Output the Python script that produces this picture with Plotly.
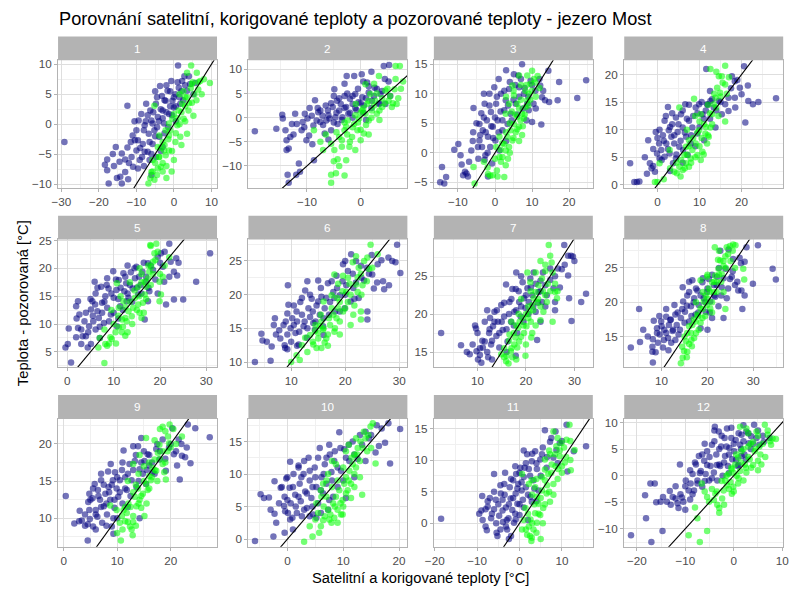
import plotly.graph_objects as go

# ---------------- data ----------------
# satellite (navy) and corrected (green) vs. observed temperature, per month
sat_01 = [(-29.2,-3.0),(-18.4,-6.8),(-17.8,-5.9),(-17.4,-9.9),(-17.8,-7.7),(-16.3,-5.0),(-15.2,-9.0),(-14.3,-8.8),(-13.9,-9.9),(-14.5,-6.3),(-13.9,-4.9),(-15.5,-3.8),(-13.0,-5.9),(-12.4,3.1),(-12.4,-3.9),(-12.2,-9.2),(-11.3,-5.5),(-10.9,-7.1),(-11.0,-1.9),(-10.4,-2.7),(-10.0,-4.4),(-9.6,-7.4),(-10.0,-1.0),(-9.4,0.6),(-9.1,-6.0),(-8.7,1.7),(-8.3,-3.3),(-7.8,-0.2),(-7.4,3.4),(-7.0,-4.6),(-6.7,-1.6),(-6.3,2.3),(-6.0,0.6),(-5.7,-3.3),(-5.2,-1.0),(-4.8,3.4),(-4.3,1.2),(-3.9,-2.1),(-3.7,6.4),(-3.2,4.7),(-3.0,2.3),(-2.6,0.1),(-2.2,3.9),(-1.7,5.6),(-1.3,1.7),(-0.7,7.2),(-0.4,3.9),(0.0,2.8),(0.4,5.0),(1.1,9.8),(1.3,6.1),(1.7,3.4),(2.2,7.2),(2.8,8.0),(3.5,5.6),(4.3,6.7),(5.2,5.0),(5.7,6.9),(-4.8,-5.5),(-6.5,-6.0),(-3.0,-3.8),(-7.8,-4.6),(-5.7,0.1),(-9.6,-2.7),
          (-9,-4),(-8.5,-5.5),(-8,-1),(-7.5,0.5),(-7,1.5),(-6.5,-3),(-6,-5),(-5.5,2),(-5,-2),(-4.5,-0.5),(-4.5,4.5),(-4,0.5),(-3.5,2.5),(-3.5,-4.5),(-3,1),(-2.5,4),(-2.5,-1.5),(-2,2),(-1.5,-0.5),(-1,3),(-1,5.5),(-0.5,1.5),(0,4.5),(0.5,3),(1,7),(1.5,4.5),(2,5.5),(2.5,4),(3,6.5),(4,8),(-11.5,-3),(-12,-6.5),(-13,-8),(-10.5,0.5),(-8,-7),(-6,-8.5),(-16,-7),(-5,5.5),(-2,6.5),(0.5,0.5)]
kor_01 = [(-6.8,-9.9),(-6.3,-9.0),(-5.2,-9.3),(-5.7,-7.9),(-4.3,-7.4),(-3.5,-7.1),(-3.0,-7.9),(-0.6,-7.9),(-5.7,-6.0),(-3.9,-5.5),(-2.2,-5.2),(-1.3,-4.4),(-4.3,-3.8),(-3.0,-3.0),(0.4,-3.0),(-5.2,3.1),(-3.9,-1.9),(-2.2,-1.0),(-1.3,0.1),(-0.4,0.9),(0.0,1.7),(0.9,-0.2),(1.3,2.3),(2.2,3.4),(2.6,0.9),(3.0,4.5),(3.9,2.3),(4.8,3.6),(4.6,9.8),(3.5,8.6),(6.1,8.6),(4.8,6.7),(6.5,5.8),(7.4,5.0),(9.6,6.9),(5.2,1.4),(3.5,-1.6),(1.7,-2.1),(-1.3,-1.9),(-2.6,-4.4),(7.0,7.2),
          (-6,-8),(-5,-6.5),(-4.5,-8.5),(-4,-5.5),(-3.5,-4),(-3,-6.5),(-2.5,-3.5),(-2,-7),(-1.5,-2.5),(-1,-1),(-0.5,-4.5),(0.5,-1.5),(1,1),(1.5,0),(2,2),(2.5,5.5),(3,3),(3.5,4.5),(4,3.5),(4.5,6),(5,7),(5.5,5),(6,4),(6.5,7),(8,7.5),(2,-3.5),(0,-6),(-2,-9),(3,0.5),(1.5,5)]

sat_02 = [(-19.7,-2.8),(-15.7,-2.3),(-14.6,0.6),(-14.5,-0.2),(-14.0,-2.6),(-13.8,-4.7),(-13.8,-6.7),(-13.4,-6.4),(-13.6,-11.8),(-13.4,-13.5),(-13.1,-4.0),(-12.8,-1.3),(-12.2,0.8),(-11.9,-1.3),(-12.0,-11.8),(-11.3,-11.2),(-11.0,-2.6),(-10.8,-0.9),(-10.4,0.8),(-10.1,-4.7),(-9.9,-0.2),(-9.6,-3.7),(-9.1,0.4),(-8.8,-1.6),(-8.7,-8.8),(-8.5,3.6),(-8.2,-0.6),(-7.9,1.1),(-7.5,-0.9),(-7.1,0.4),(-6.7,-3.3),(-6.4,-0.6),(-6.1,1.5),(-5.8,-0.2),(-5.5,-2.6),(-5.2,2.2),(-4.9,5.9),(-4.7,0.1),(-4.4,3.5),(-4.3,-1.3),(-4.0,1.5),(-3.7,2.8),(-3.4,0.1),(-3.0,4.5),(-2.7,2.2),(-2.6,8.6),(-2.3,0.8),(-2.0,3.9),(-1.5,2.8),(-1.2,8.6),(-1.0,4.9),(-0.8,1.6),(-0.4,3.2),(0.2,9.0),(0.3,4.2),(0.6,2.5),(1.2,7.3),(1.5,5.2),(2.1,3.5),(2.6,6.2),(3.4,2.8),(3.7,4.9),(4.3,10.7),(5.2,7.5),(5.3,10.9),(4.6,2.8),(5.5,4.5),
          (-8,2),(-7.5,1.5),(-7,-1.5),(-6.5,2.5),(-6,0.5),(-5.5,3),(-5,-1),(-4.5,1),(-4,4),(-3.5,-0.5),(-3,2),(-2.5,5),(-2,1),(-1.5,4.5),(-1,2),(-0.5,6),(0,3),(0.5,1),(1,4),(1.5,6.5),(2,2),(2.5,4.5),(3,6),(3.5,3),(4,5.5),(4.5,8),(-3,7),(-5,4.5),(-9.5,2),(-10.5,-2),(-12.5,-3.5),(-11.5,-9.5),(-9,-5.5),(-6,-4.5),(0.5,7.5),(2,9.5),(-1.5,0),(1,-0.5)]
kor_02 = [(-8.7,-2.6),(-7.0,-6.7),(-5.5,-5.4),(-5.5,-11.8),(-5.5,-13.5),(-4.6,-11.5),(-4.9,-6.7),(-4.3,-8.6),(-4.0,-4.0),(-3.5,-4.7),(-3.0,-2.6),(-2.7,-1.9),(-2.4,-0.6),(-2.1,-6.0),(-1.6,-4.0),(-1.2,-1.3),(-1.0,-6.7),(-0.6,-2.6),(-0.3,-0.2),(0.0,-4.7),(0.3,1.5),(0.6,-3.3),(0.9,0.8),(1.2,2.8),(1.5,-0.6),(1.8,4.9),(2.1,1.5),(2.7,3.5),(3.0,0.8),(3.4,8.6),(4.0,2.2),(4.6,5.6),(5.2,3.5),(5.8,2.2),(6.3,5.9),(6.7,2.8),(7.3,10.7),(6.5,10.7),(7.9,7.5),(0.9,6.9),(-0.9,2.8),(-2.7,-8.8),
          (-7.5,-5),(-6.5,-3.5),(-5,-9),(-4.5,-3),(-3.5,-6),(-3,-1),(-2.5,-3.5),(-2,-5),(-1.5,-2),(-1,0.5),(-0.5,-1),(0,1),(0.5,2),(1,-1.5),(1.5,3.5),(2,0),(2.5,2.5),(3,5),(3.5,1.5),(4,4),(4.5,3),(5,6),(5.5,4.5),(6,3),(6.5,8),(7,4),(7.5,6),(2.5,7),(0,-2.5),(-4,-10),(-3,-12),(1.5,-3.5),(3.5,-0.5)]

sat_03 = [(-14.3,-2.4),(-14.8,-5.0),(-13.7,-5.2),(-13.2,-4.1),(-9.9,1.5),(-9.3,-0.4),(-8.6,-3.8),(-8.1,-3.2),(-7.7,-3.5),(-7.3,-4.0),(-6.4,0.4),(-5.8,7.6),(-5.9,3.5),(-4.6,1.0),(-4.2,2.1),(-3.7,6.7),(-4.2,4.9),(-3.3,3.8),(-2.8,8.3),(-2.6,-0.4),(-2.2,5.5),(-1.9,2.7),(-1.5,10.0),(-1.3,1.0),(-1.1,6.9),(-0.8,-1.8),(-0.6,4.4),(-0.2,11.1),(0.1,2.1),(0.3,8.3),(0.7,5.5),(1.2,0.4),(1.6,10.0),(2.0,3.8),(2.5,7.2),(2.9,8.9),(3.4,4.9),(3.8,10.8),(4.2,6.6),(5.1,13.3),(5.6,8.3),(6.3,13.1),(6.5,11.1),(7.3,15.0),(7.8,10.0),(8.7,8.3),(9.1,7.2),(9.6,12.2),(10.0,5.2),(10.4,8.3),(10.9,10.5),(12.2,11.4),(12.5,4.8),(12.7,9.4),(13.5,8.9),(14.4,13.9),(14.6,8.6),(16.9,8.9),(17.3,12.0),(22.2,9.3),(24.6,12.3),(-2.8,-1.2),(-1.9,-4.0),
          (-5,5),(-4.5,-1),(-4,3),(-3.5,1),(-3,6),(-2.5,3.5),(-2,0),(-1.5,8),(-1,4.5),(-0.5,2.5),(0,6),(0.5,9.5),(1,3.5),(1.5,7),(2,5.5),(2.5,10.5),(3,2),(3.5,8),(4,12),(4.5,5.5),(5,9),(5.5,11.5),(6,6.5),(6.5,9.5),(7,12.5),(7.5,7.5),(8,11),(8.5,5.5),(9,9.5),(10,11.5),(11,7.5),(12,12.5),(-7,-1.5),(-6,2),(-9,-2),(-11,0.5),(1,12.5),(3,14),(13,10.5),(-3,10)]
kor_03 = [(-5.8,-2.4),(-5.5,-5.2),(-1.9,-3.6),(-1.3,-3.9),(-0.6,-3.8),(0.7,-4.0),(2.5,-4.1),(1.2,-0.7),(1.6,-1.5),(2.9,-2.1),(2.9,0.4),(3.8,1.0),(0.3,1.0),(1.2,2.7),(2.0,1.6),(3.4,2.7),(4.2,3.8),(4.7,2.1),(5.1,4.9),(5.6,3.5),(6.0,6.1),(6.5,4.4),(6.9,5.5),(7.3,6.6),(7.8,5.8),(8.2,7.7),(8.7,8.9),(9.1,10.0),(9.6,11.7),(10.0,13.9),(8.7,13.1),(10.9,11.9),(6.5,13.1),(4.7,11.4),(3.8,8.3),(5.1,9.7),(2.9,6.6),(7.3,3.0),(8.2,10.5),(6.0,8.3),(2.0,-0.7),
          (-3,-1.5),(-2,-2.5),(0,-1),(0.5,-3),(1.5,0.5),(2.5,1.5),(3,3.5),(3.5,-1),(4,5),(4.5,7),(5,2.5),(5.5,6.5),(6,4),(6.5,7.5),(7,9),(7.5,4.5),(8,6.5),(8.5,11.5),(9,8),(9.5,9),(10,10.5),(10.5,12.5),(11,9.5),(11.5,13),(12,11),(7,11.5),(5,10.5),(3,9.5),(4,0),(6.5,2)]

sat_04 = [(-6.5,3.9),(-5.5,0.5),(-4.9,0.5),(-4.3,0.6),(-2.2,8.1),(-1.8,3.9),(-1.4,3.0),(-1.0,3.4),(-0.6,2.4),(-0.4,9.6),(-0.1,5.7),(0.4,7.5),(0.5,4.8),(0.9,6.3),(1.3,9.0),(1.7,11.6),(1.7,5.1),(2.1,7.5),(2.5,14.1),(2.7,9.9),(2.9,5.7),(3.3,8.7),(3.5,11.0),(3.7,3.9),(4.0,7.5),(4.4,12.2),(4.8,9.6),(5.2,6.9),(5.6,12.8),(6.0,10.4),(6.1,6.3),(6.6,14.6),(6.8,8.7),(7.5,11.6),(7.9,7.5),(8.3,10.4),(9.1,14.0),(9.5,9.3),(9.9,14.6),(10.7,12.8),(11.1,8.1),(11.6,21.0),(11.8,14.6),(12.6,15.2),(13.4,14.0),(13.8,10.4),(14.6,15.2),(16.1,14.6),(16.9,15.8),(17.7,19.7),(18.4,18.8),(19.6,17.6),(20.0,16.4),(20.6,21.5),(20.9,11.3),(21.6,15.2),(22.7,14.6),(28.2,15.7),(15.3,12.8),(16.9,13.4),(18.4,15.8),(7.2,5.4),(4.4,4.8),
          (0,8.5),(0.5,10),(1,4.5),(1.5,8),(2,12.5),(2.5,6.5),(3,10.5),(3.5,13),(4,9),(4.5,5.5),(5,11),(5.5,8),(6,13.5),(6.5,9.5),(7,12),(7.5,14.5),(8,9),(8.5,12.5),(9,7),(9.5,13),(10,10.5),(10.5,15),(11,12),(11.5,13.5),(12,14.5),(12.5,12),(13,15.5),(14,13.5),(15,15),(17.5,17.5),(19,19),(21.5,18),(24,15),(-3,5),(-2.5,2),(-1,6.5),(3,2.5),(6,4),(12.5,17),(18.5,14)]
kor_04 = [(-0.6,0.5),(0.0,0.5),(0.5,3.9),(2.9,6.3),(4.0,2.4),(4.6,2.1),(5.2,3.3),(5.6,4.5),(6.0,2.7),(6.4,5.4),(6.8,3.9),(7.5,3.3),(7.9,4.8),(6.8,6.9),(7.5,8.1),(8.3,6.3),(9.1,7.5),(9.5,5.4),(10.3,4.5),(10.7,6.0),(9.9,9.9),(11.1,11.0),(11.4,9.3),(11.8,7.5),(12.2,8.7),(12.6,10.4),(13.0,12.8),(13.4,14.6),(13.8,15.8),(14.2,17.6),(14.6,19.7),(15.3,19.7),(16.1,18.2),(12.6,21.0),(16.1,21.6),(16.1,11.5),(8.7,15.6),(5.2,14.0),(14.9,16.7),(10.3,12.8),
          (1.5,1),(3,3),(4.5,4),(5.5,1.5),(6.5,3),(7,5.5),(7.5,7),(8,4),(8.5,8.5),(9,5),(9.5,9.5),(10,7),(10.5,8.5),(11,5.5),(11.5,10.5),(12,9),(12.5,13),(13,11),(13.5,16.5),(14,14),(14.5,12.5),(15,16),(15.5,18.5),(16.5,16.5),(17,19.5),(14,20.5),(10,11.5),(12,14.5),(7,10),(9,12.5)]

sat_05 = [(-0.4,5.8),(0.1,6.4),(0.3,9.2),(0.8,3.1),(1.9,7.6),(2.3,9.3),(1.9,13.2),(2.3,14.1),(2.6,11.7),(3.0,6.4),(3.3,7.8),(3.7,10.5),(4.0,7.8),(4.4,5.8),(4.7,9.6),(5.1,12.6),(5.6,10.5),(5.9,17.6),(6.1,15.5),(6.1,9.0),(6.5,12.3),(6.8,11.1),(7.3,16.7),(7.5,13.8),(7.9,10.2),(8.2,15.0),(8.6,12.9),(8.9,16.4),(9.4,11.7),(9.9,19.5),(10.0,14.7),(10.6,16.1),(10.7,9.6),(11.1,17.9),(11.4,13.2),(12.1,19.1),(12.3,15.9),(12.7,17.3),(13.2,14.7),(13.7,19.3),(14.1,16.4),(14.6,18.2),(14.9,20.3),(15.3,15.3),(15.8,17.0),(16.2,19.4),(16.7,10.8),(17.0,17.6),(17.4,20.9),(17.7,15.9),(18.5,19.7),(19.5,22.1),(20.2,22.7),(20.6,20.3),(20.9,17.6),(21.3,13.5),(22.0,24.4),(22.3,21.2),(23.0,19.4),(23.5,21.8),(23.7,18.7),(23.0,14.4),(25.0,14.4),(27.8,17.6),(30.8,22.7),(5.4,14.1),(8.6,18.2),(5.1,6.4),(12.8,14.1),(17.4,14.1),
          (4,12),(4.5,8.5),(5,14.5),(5.5,11.5),(6,13.5),(6.5,16.5),(7,9.5),(7.5,12),(8,14),(8.5,17),(9,10.5),(9.5,15.5),(10,12),(10.5,18),(11,14.5),(11.5,16.5),(12,12.5),(12.5,18.5),(13,15.5),(13.5,17),(14,14),(14.5,20),(15,16.5),(15.5,18.5),(16,15.5),(16.5,21),(17,18.5),(17.5,16.5),(18,20.5),(19,18),(20,21),(21,23),(22,18.5),(24,21),(3,9),(2,11),(7,7.5),(11,11),(19.5,15.5),(13,20.5)]
kor_05 = [(6.7,5.8),(8.2,6.4),(8.0,3.0),(8.6,6.1),(9.3,7.6),(9.6,7.3),(10.4,8.5),(11.1,9.4),(11.8,8.5),(12.5,7.9),(11.8,10.8),(12.5,11.1),(12.8,10.5),(11.1,12.9),(12.1,14.1),(13.2,12.3),(13.9,11.4),(14.2,12.9),(14.6,14.7),(15.3,13.5),(15.6,12.0),(16.0,11.1),(16.3,13.8),(16.7,15.3),(17.0,16.7),(17.4,18.2),(17.7,19.4),(18.1,20.3),(18.5,21.2),(18.8,22.7),(19.2,24.4),(17.9,24.2),(20.2,15.3),(19.9,14.1),(20.6,18.5),(15.6,20.0),(10.7,17.3),(15.3,16.7),(16.7,17.6),(19.9,17.6),
          (7,7.5),(8,9),(9,6.5),(10,10),(10.5,6.5),(11,11.5),(12,9.5),(12.5,13),(13,8.5),(13.5,14),(14,10),(14.5,16),(15,12.5),(15.5,15),(16,17.5),(16.5,12),(17,14.5),(17.5,20.5),(18,17),(18.5,19),(19,21.5),(19.5,23),(20,19),(21,20.5),(22,22),(18,24),(16,19),(13.5,17.5),(11.5,15),(9.5,12.5)]

sat_06 = [(3.3,10.0),(4.5,14.2),(4.7,13.2),(6.2,10.2),(6.4,12.3),(6.8,15.5),(7.2,14.1),(7.8,14.7),(8.6,15.5),(8.8,12.5),(8.9,12.1),(9.3,11.9),(9.4,21.4),(9.3,17.2),(9.3,14.1),(9.9,15.0),(10.2,16.5),(10.5,18.4),(10.8,14.3),(11.1,16.0),(11.4,12.6),(11.7,18.9),(12.0,17.0),(12.3,15.3),(12.6,20.6),(12.9,13.6),(13.2,18.0),(13.5,16.7),(13.8,19.4),(14.1,15.8),(14.4,14.8),(14.7,18.4),(15.0,22.1),(15.3,17.0),(15.6,19.7),(15.9,15.3),(16.2,18.0),(16.8,21.7),(17.2,18.9),(17.8,20.4),(18.1,17.5),(18.4,22.8),(19.0,19.9),(19.6,24.5),(19.9,18.0),(20.2,21.4),(21.1,26.0),(21.4,23.1),(21.7,19.4),(22.0,21.8),(22.9,24.3),(23.5,22.1),(24.1,17.5),(24.1,16.3),(24.4,23.1),(24.9,25.9),(25.3,20.9),(25.9,21.8),(26.7,25.1),(27.2,20.8),(28.1,21.4),(28.7,25.0),(29.6,27.4),(30.2,23.2),(29.3,24.8),(11.1,12.4),
          (5.5,13),(7,16.5),(8,13.5),(9,16),(9.5,18.5),(10,13),(10.5,15.5),(11,17.5),(11.5,14.5),(12,19.5),(12.5,16),(13,15),(13.5,20),(14,17.5),(14.5,16),(15,19),(15.5,21),(16,16.5),(16.5,19.5),(17,17),(17.5,22),(18,19.5),(18.5,21),(19,17.5),(19.5,22),(20,20),(20.5,23.5),(21,19),(21.5,21),(22,25),(22.5,19.5),(23,22.5),(24,24),(25,23),(26,24.5),(27,22),(28,25.5),(16,14),(20,25),(13,22)]
kor_06 = [(10.0,10.0),(11.6,10.3),(12.6,13.6),(14.1,12.6),(14.7,12.1),(14.4,14.6),(15.0,14.3),(15.3,15.3),(15.6,16.0),(15.9,14.8),(16.2,12.9),(16.8,12.4),(16.8,14.1),(17.2,15.5),(17.8,17.0),(18.1,15.0),(18.4,16.5),(18.7,18.0),(19.0,18.9),(19.6,17.5),(19.6,22.8),(20.2,20.4),(20.5,18.9),(20.8,21.6),(21.4,24.8),(21.7,18.4),(22.0,25.7),(22.3,20.4),(22.9,23.1),(23.2,21.4),(24.1,25.5),(24.7,27.4),(24.4,23.8),(22.9,17.5),(22.9,16.3),(22.3,22.6),(17.5,19.9),(19.0,14.1),(15.6,12.1),(18.7,21.6),
          (11,11),(12,12.5),(13,11.5),(13.5,14),(14,13),(14.5,15.5),(15,13.5),(15.5,17),(16,15),(16.5,13.5),(17,16.5),(17.5,18),(18,14.5),(18.5,19.5),(19,16),(19.5,20.5),(20,18),(20.5,22.5),(21,20),(21.5,17),(22,21.5),(22.5,24),(23,20),(23.5,25),(24,22),(25,24),(26,26),(18,23),(16,19),(21,15.5)]

sat_07 = [(2.5,17.5),(6.6,15.9),(7.8,15.0),(8.4,14.7),(9.5,18.5),(9.7,18.1),(9.8,15.1),(10.1,14.0),(10.5,14.6),(10.8,13.6),(11.1,15.6),(11.5,16.4),(12.0,20.5),(12.2,14.3),(12.4,17.5),(12.6,19.5),(12.8,16.0),(13.2,18.4),(13.5,20.3),(13.9,17.1),(14.2,19.0),(14.5,15.6),(14.9,21.2),(15.2,17.9),(15.5,19.7),(15.9,23.9),(16.2,16.4),(16.6,21.6),(16.9,19.0),(17.2,23.3),(17.6,20.3),(17.9,23.3),(18.0,25.5),(18.2,17.5),(18.6,21.6),(18.9,19.7),(19.3,24.2),(19.6,22.1),(19.9,20.8),(20.3,23.4),(20.6,21.6),(20.9,24.7),(21.3,22.5),(21.6,25.5),(22.0,20.3),(22.3,16.6),(22.6,22.9),(23.0,24.4),(23.3,21.6),(24.0,23.8),(24.3,22.5),(25.0,26.0),(25.7,23.4),(26.0,21.6),(26.6,26.0),(27.4,25.9),(27.9,29.1),(28.7,27.7),(28.7,25.1),(28.9,22.1),(29.3,27.7),(29.4,19.1),(29.7,27.6),(31.4,21.6),(32.4,22.7),(17.9,14.5),
          (9,16),(10,17.5),(11,16.5),(11.5,19),(12,15),(12.5,18),(13,16.5),(13.5,19),(14,20.5),(14.5,17.5),(15,19),(15.5,21.5),(16,18),(16.5,20),(17,22),(17.5,18.5),(18,20.5),(18.5,23),(19,21),(19.5,19),(20,22.5),(20.5,20),(21,23.5),(21.5,21),(22,24),(22.5,21.5),(23,23),(23.5,25.5),(24,21),(25,24.5),(26,25),(27,23.5),(28,26.5),(16,15),(13,14),(10.5,15.5),(19,25),(23,19),(30,27),(26,20.5)]
kor_07 = [(14.9,14.7),(15.5,14.3),(15.9,13.8),(16.4,13.5),(16.9,15.1),(17.2,14.3),(17.6,16.0),(17.8,16.9),(18.2,15.6),(18.4,18.2),(18.7,19.0),(19.3,19.5),(19.6,17.5),(19.9,14.5),(20.1,18.4),(20.5,19.5),(20.7,20.3),(20.9,24.2),(21.1,16.9),(21.3,21.2),(21.6,22.1),(22.0,22.9),(22.3,21.6),(22.6,23.8),(23.0,19.2),(23.3,24.7),(23.6,20.3),(24.0,25.7),(24.3,21.6),(24.7,29.1),(25.0,27.7),(25.3,26.8),(25.5,19.0),(26.0,22.9),(26.4,22.1),(23.0,27.0),(20.3,25.5),(21.3,17.5),(18.6,16.4),(16.6,17.3),
          (15.5,15.5),(16,14.5),(16.5,16.5),(17,15.5),(17.5,17.5),(18,14),(18.5,20),(19,17),(19.5,18.5),(20,16),(20.5,21),(21,19),(21.5,20.5),(22,18.5),(22.5,22),(23,21),(23.5,23),(24,22.5),(24.5,24),(25,23),(25.5,25.5),(26,24),(26.5,23),(22,25.5),(21,23),(20,20),(19,22),(24,26.5),(18,18.5),(17,19)]

sat_08 = [(3.3,13.4),(5.3,14.2),(5.1,19.0),(8.1,11.2),(8.0,12.8),(8.1,14.6),(8.3,17.3),(8.7,12.7),(9.0,16.2),(9.2,14.1),(9.6,15.3),(9.9,17.2),(10.3,13.4),(10.6,16.0),(11.0,17.9),(11.4,14.8),(11.6,16.7),(11.9,17.4),(12.1,14.1),(12.4,15.8),(12.8,19.6),(13.0,18.2),(13.3,16.7),(13.7,15.3),(14.2,17.7),(14.6,22.2),(14.7,20.1),(15.1,18.6),(15.6,21.0),(16.0,17.2),(16.4,19.4),(16.7,23.2),(17.1,20.6),(17.4,18.2),(17.8,21.7),(18.1,19.6),(18.5,16.2),(18.9,22.9),(19.2,20.6),(19.6,18.6),(19.9,21.5),(20.3,23.4),(20.6,20.1),(21.0,17.7),(21.4,22.5),(21.7,20.8),(22.1,23.7),(22.4,19.4),(22.8,27.5),(23.1,22.2),(23.5,17.7),(23.9,24.9),(24.2,20.6),(24.6,27.7),(24.9,23.4),(25.6,26.3),(26.0,22.5),(26.7,21.7),(27.3,25.7),(27.4,21.7),(27.6,19.0),(28.1,25.9),(28.1,21.0),(28.5,28.0),(29.9,22.7),(31.0,28.3),(34.2,24.9),(34.9,23.3),(25.3,23.7),
          (6,16),(7,15),(8,13.5),(9,15.5),(9.5,18),(10,16.5),(10.5,14.5),(11,15.5),(11.5,13),(12,17.5),(12.5,16),(13,14.5),(13.5,18.5),(14,16),(14.5,19),(15,17),(15.5,19.5),(16,21.5),(16.5,18),(17,20),(17.5,22),(18,18.5),(18.5,21),(19,23.5),(19.5,20),(20,22),(20.5,18.5),(21,24),(21.5,21),(22,22.5),(22.5,25),(23,21),(23.5,23.5),(24.5,22),(25.5,24.5),(26.5,23),(27,26.5),(11,19),(16,23),(20,16)]
kor_08 = [(14.2,11.1),(14.6,11.9),(14.9,12.9),(15.6,12.8),(15.3,14.3),(16.0,13.9),(15.6,15.5),(16.4,15.5),(16.7,16.7),(17.1,14.8),(17.4,17.2),(17.8,18.2),(18.1,16.0),(18.5,19.1),(18.9,17.7),(19.2,20.1),(19.6,21.0),(19.9,19.6),(20.3,22.0),(20.6,19.1),(21.0,22.9),(21.4,21.5),(21.7,23.9),(22.1,22.9),(22.4,24.9),(22.8,26.1),(23.1,24.1),(23.5,25.3),(23.9,26.7),(24.2,28.0),(24.9,28.2),(25.6,28.4),(26.1,28.3),(21.6,28.0),(22.3,26.2),(19.9,23.7),(18.5,23.2),(23.9,19.0),(28.0,23.3),(27.8,24.9),(16.6,13.6),
          (14.5,13.5),(15,15),(15.5,12),(16,16.5),(16.5,14.5),(17,17.5),(17.5,15.5),(18,18),(18.5,17),(19,19),(19.5,18),(20,20.5),(20.5,21.5),(21,20),(21.5,23),(22,21.5),(22.5,24),(23,23),(23.5,26),(24,25),(24.5,27),(25,26),(25.5,27.5),(22.5,27.5),(20,24),(17.5,20),(26,25),(21,18.5),(19,21.5),(23.5,21.5)]

sat_09 = [(0.4,13.0),(2.0,9.3),(2.9,9.6),(3.4,9.7),(4.5,7.0),(4.5,9.2),(4.8,13.3),(4.6,12.2),(4.8,11.1),(4.9,9.9),(5.4,12.7),(5.5,8.9),(5.8,14.6),(6.0,11.1),(6.3,10.2),(6.4,13.8),(6.8,12.5),(7.0,15.1),(7.2,9.4),(7.5,11.6),(7.8,13.3),(8.1,10.5),(8.3,16.3),(8.4,14.2),(8.7,12.5),(8.8,17.3),(9.0,8.9),(9.2,15.1),(9.3,7.9),(9.5,11.4),(9.6,16.2),(9.9,14.0),(10.2,12.9),(10.5,15.1),(10.9,16.5),(11.2,19.1),(11.5,15.5),(11.8,13.8),(12.3,17.3),(12.7,15.1),(13.0,19.7),(13.3,17.7),(13.6,14.2),(13.9,19.7),(14.2,16.6),(14.5,20.8),(14.8,16.0),(15.1,17.7),(15.4,14.6),(15.7,18.6),(16.0,17.1),(16.6,16.2),(17.3,19.3),(17.9,17.9),(18.5,20.6),(19.1,16.4),(19.7,19.5),(20.3,22.1),(20.6,18.6),(21.2,17.1),(21.5,20.6),(21.7,15.2),(22.1,18.4),(22.7,18.2),(23.0,19.5),(23.2,22.6),(23.7,17.4),(24.6,22.1),(27.3,20.9),(9.3,10.0),(14.2,10.0),
          (3,11),(4,10.5),(5,12.5),(5.5,14),(6,10.5),(6.5,13),(7,11.5),(7.5,14.5),(8,12),(8.5,13.5),(9,14.5),(9.5,12.5),(10,15.5),(10.5,13.5),(11,17.5),(11.5,14),(12,16),(12.5,13),(13,16.5),(13.5,18.5),(14,15),(14.5,17.5),(15,19),(15.5,16.5),(16,18.5),(16.5,17.5),(17,16),(17.5,20),(18,19),(19,18),(20,20),(21,19),(22,20),(6,8.5),(8,9),(10,10),(12,11.5),(7,16),(4,9),(11,12)]
kor_09 = [(10.7,7.0),(10.5,9.4),(10.9,10.3),(11.2,11.1),(11.5,9.6),(11.8,10.7),(12.1,12.0),(12.4,8.9),(12.7,8.5),(12.9,7.7),(13.0,10.3),(13.3,12.9),(13.6,11.6),(13.9,14.0),(14.2,12.5),(14.5,11.4),(14.8,13.3),(15.1,10.3),(15.4,14.6),(15.7,13.8),(16.0,15.7),(16.3,15.1),(16.6,16.8),(17.0,17.9),(17.3,16.4),(17.6,18.8),(17.9,19.9),(18.5,17.3),(18.8,16.2),(19.1,15.2),(19.4,19.0),(19.7,20.1),(18.5,22.3),(19.0,21.7),(19.8,22.6),(22.1,21.0),(15.4,20.8),(14.2,18.5),(13.0,17.3),(9.9,11.1),(8.7,11.7),
          (11,8.5),(11.5,11.5),(12,9.5),(12.5,11.5),(13,13.5),(13.5,9),(14,12),(14.5,13),(15,15),(15.5,12),(16,14),(16.5,15.5),(17,16.5),(17.5,15),(18,18),(18.5,19),(19,17.5),(19.5,21),(20,19.5),(21,20),(18,22),(16,17.5),(15,17),(14,16),(12,15),(13,9.5),(17,20.5),(20.5,22),(13.5,14.5),(10,8)]

sat_10 = [(-5.8,-0.3),(-4.8,6.9),(-4.2,6.3),(-3.3,6.4),(-2.5,0.4),(-2.3,3.9),(-2.3,8.9),(-1.2,7.9),(-0.6,5.1),(-0.5,1.0),(-0.4,4.3),(-0.2,9.3),(0.1,4.0),(0.4,7.9),(0.5,11.9),(0.6,5.5),(0.9,3.3),(1.1,10.0),(1.4,6.8),(1.7,4.0),(2.0,11.3),(2.2,8.5),(2.4,5.8),(2.6,3.5),(2.9,10.0),(3.2,7.3),(3.5,4.8),(3.8,12.5),(4.0,9.0),(4.3,6.3),(4.6,3.8),(4.9,11.0),(5.2,8.0),(5.5,5.5),(5.8,14.0),(6.1,9.5),(6.4,7.0),(6.7,11.5),(7.0,8.5),(7.3,4.5),(7.6,13.0),(7.9,10.3),(8.2,6.5),(8.4,12.0),(9.0,8.0),(9.3,16.4),(9.6,10.5),(10.2,13.8),(10.5,6.3),(11.1,12.0),(11.7,15.0),(12.0,9.5),(12.6,12.3),(13.4,14.5),(14.0,16.5),(14.6,15.5),(15.8,13.3),(16.4,14.3),(16.9,17.0),(17.5,14.8),(18.1,17.8),(18.4,11.6),(20.2,16.9),(5.2,3.3),(4.0,3.5),
          (-3,4.5),(-1.5,5.5),(-1,8),(-0.5,6.5),(0,9.5),(0.5,3),(1,8),(1.5,5),(2,6.5),(2.5,9.5),(3,4.5),(3,12),(3.5,7),(4,10.5),(4.5,5),(5,9.5),(5.5,12.5),(6,7.5),(6.5,10),(7,12.5),(7.5,6),(8,9),(8.5,13.5),(9,11),(9.5,14),(10,9),(10.5,12.5),(11,14.5),(12,13),(13,16),(14,12),(15,16),(16,17.5),(1,1.5),(-2,2.5),(0,6),(4.5,8),(7.5,14.5),(2,11),(6,4)]
kor_10 = [(3.0,-0.4),(4.5,0.4),(5.7,1.0),(6.4,2.9),(6.7,3.5),(7.3,4.5),(7.7,3.8),(8.2,5.5),(8.4,3.3),(8.7,6.5),(9.0,4.5),(9.3,7.5),(9.6,3.8),(9.9,6.0),(10.2,8.5),(10.5,9.5),(10.8,7.5),(11.1,10.5),(11.4,8.5),(11.7,11.5),(12.0,13.0),(12.3,11.0),(12.6,14.0),(13.1,15.0),(13.7,16.5),(14.3,13.5),(14.9,17.3),(15.3,17.8),(15.8,11.6),(13.4,6.8),(11.4,6.3),(7.3,10.0),(6.4,8.5),(8.7,11.5),(10.5,13.5),(5.2,5.5),(6.1,6.5),(7.9,2.5),(9.9,3.8),(12.3,15.5),
          (4,2),(5,3),(5.5,4),(6,2),(6.5,5),(7,6.5),(7.5,3),(8,8),(8.5,5),(9,9),(9.5,5.5),(10,11),(10.5,7),(11,9),(11.5,12.5),(12,10),(12.5,13),(13,12),(13.5,14),(14,15.5),(14.5,16),(15,14),(12,8),(10,5),(8,12),(6,7.5),(9,2.5),(11,14.5),(13,9.5),(7,9)]

sat_11 = [(-18.5,0.7),(-9.0,2.0),(-8.8,4.3),(-8.7,0.5),(-8.0,2.2),(-7.7,-1.1),(-7.5,2.6),(-6.7,0.8),(-6.0,7.8),(-6.0,2.2),(-5.6,3.7),(-5.4,-1.5),(-5.2,-2.0),(-4.8,1.2),(-4.4,4.7),(-4.0,3.7),(-3.9,0.2),(-3.6,6.2),(-3.4,8.0),(-3.2,2.5),(-2.9,-1.0),(-2.6,0.8),(-2.5,-2.5),(-2.3,5.7),(-2.1,3.9),(-1.7,2.1),(-1.5,6.8),(-1.3,0.1),(-0.9,4.7),(-0.8,7.8),(-0.5,3.1),(-0.3,6.2),(0.0,1.3),(0.2,8.8),(0.5,5.2),(0.8,3.7),(1.0,7.3),(1.2,8.8),(1.5,5.7),(1.8,10.9),(2.2,8.6),(2.6,4.2),(2.9,9.8),(3.3,6.8),(3.7,11.4),(4.1,8.6),(4.5,5.2),(4.9,10.1),(5.3,10.9),(6.0,14.7),(6.4,8.8),(7.2,12.9),(8.0,10.4),(8.7,11.6),(9.5,12.7),(11.1,15.6),(11.3,8.2),(12.8,11.4),(15.7,12.2),(2.9,3.4),(-0.9,0.6),(-3.2,-0.5),
          (-7,4),(-6.5,1.5),(-6,5),(-5.5,0),(-5,3),(-4.5,6),(-4,2),(-3.5,4.5),(-3,0.5),(-2.5,3),(-2,7),(-1.5,4),(-1,1.5),(-0.5,5.5),(0,3),(0,8),(0.5,6.5),(1,2.5),(1.5,9.5),(2,4.5),(2.5,7.5),(3,11),(3.5,5.5),(4,9.5),(5,7.5),(5.5,12),(6.5,10.5),(7.5,13.5),(9,9.5),(10,13),(-8,-0.5),(-7.5,3.5),(-4.5,-1),(-2,-2),(1,11.5),(-1,9),(4,3.5),(8.5,14.5),(-9.5,1.5),(2,0.5)]
kor_11 = [(0.6,-1.0),(1.4,2.4),(1.8,-1.8),(2.2,-0.5),(2.6,0.6),(2.9,-2.3),(3.3,-1.0),(3.7,1.6),(2.8,-2.8),(4.1,0.1),(4.5,3.1),(4.9,1.3),(3.7,5.7),(4.1,4.2),(5.3,5.2),(5.6,2.4),(6.0,6.8),(6.4,4.7),(6.8,7.8),(7.2,3.4),(7.6,9.3),(8.0,6.2),(8.4,10.9),(8.7,12.2),(9.1,8.6),(9.5,10.6),(9.9,12.7),(10.7,9.6),(11.1,13.2),(11.8,15.6),(12.1,8.4),(13.0,11.6),(8.0,14.5),(2.9,6.8),(6.0,10.1),(7.2,10.9),(5.3,7.3),(0.6,7.8),(2.2,6.2),
          (1,0.5),(1.5,-1),(2,1.5),(2.5,-2),(3,0),(3.5,3),(4,-1.5),(4.5,1.5),(5,4),(5.5,0),(6,3),(6.5,6),(7,5),(7.5,8),(8,4.5),(8.5,9),(9,7),(9.5,11.5),(10,9),(10.5,12),(11,10.5),(12,13),(9,13.5),(7,11.5),(6,8.5),(4,7),(3,4.5),(5,-2.5),(10,8),(12,10)]

sat_12 = [(-21.2,-11.2),(-18.3,-3.7),(-18.1,-8.0),(-17.2,-1.5),(-17.0,-12.5),(-16.3,-1.5),(-15.1,-4.9),(-14.7,-10.4),(-14.6,-4.0),(-13.8,-4.9),(-13.2,-2.9),(-12.6,-4.0),(-12.0,-4.3),(-11.6,-5.2),(-11.4,-6.1),(-11.1,2.1),(-10.7,-4.1),(-10.4,-4.9),(-10.0,-6.4),(-9.9,-0.9),(-9.3,-2.8),(-8.9,-1.5),(-8.5,0.3),(-8.2,-2.8),(-7.8,2.1),(-7.5,-0.9),(-7.2,3.7),(-6.8,0.9),(-6.5,-2.1),(-6.1,2.8),(-5.8,0.3),(-5.5,4.6),(-5.1,-0.9),(-4.8,1.8),(-4.5,5.8),(-4.1,0.6),(-3.9,9.2),(-3.6,4.0),(-3.4,-0.9),(-3.1,8.3),(-3.0,2.1),(-2.6,5.5),(-2.3,0.0),(-1.9,7.1),(-1.8,3.7),(-1.4,8.9),(-1.2,1.8),(-0.9,5.2),(-0.5,7.1),(-0.3,3.1),(0.1,4.6),(0.4,6.7),(0.8,1.8),(1.3,5.8),(1.6,7.7),(2.2,4.0),(2.6,8.3),(3.1,6.1),(3.6,7.4),(4.2,9.6),(4.7,7.1),(5.3,5.8),(6.2,6.4),(7.4,7.1),(1.6,3.7),(-2.8,1.8),
          (-10,-2),(-9,1),(-8.5,-3.5),(-8,2.5),(-7.5,-1.5),(-7,0.5),(-6.5,4),(-6,-1),(-5.5,2),(-5,3.5),(-4.5,-0.5),(-4,6.5),(-3.5,2),(-3,5),(-2.5,7.5),(-2,2.5),(-1.5,5.5),(-1,4),(-0.5,9),(0,6),(0.5,3),(1,8),(1.5,5),(2,6.5),(2.5,3),(3,8),(3.5,5),(4,6),(5,8.5),(6,7.5),(-12,-2),(-13,-5.5),(-11,-3.5),(-16,-5),(-9,-4.5),(-4,8.5),(-1,0.5),(1,2),(-6,6),(2,9.5)]
kor_12 = [(-9.3,-11.2),(-7.0,-12.5),(-5.5,-10.4),(-7.5,-8.0),(-6.6,-1.5),(-5.5,-4.0),(-5.1,-4.9),(-4.1,-4.6),(-3.8,-3.4),(-3.4,-5.5),(-3.0,-6.1),(-2.4,-4.3),(-2.1,-2.8),(-1.8,-0.9),(-1.4,-1.8),(-1.1,0.3),(-0.7,-1.2),(-0.4,1.2),(-0.1,-2.1),(0.3,2.1),(0.6,0.0),(0.9,3.4),(1.3,0.9),(1.6,4.6),(2.0,-0.9),(2.3,2.1),(2.6,0.6),(3.0,5.5),(3.3,3.1),(3.6,1.5),(4.0,6.4),(4.3,4.6),(4.7,8.3),(5.0,2.8),(5.3,5.5),(5.7,2.1),(6.4,9.6),(7.0,7.7),(7.7,5.8),(8.7,6.9),(1.3,9.2),(2.6,8.9),(-0.4,-3.4),(0.9,-1.5),
          (-8,-6),(-6,-3),(-4.5,-2.5),(-3.5,-3),(-2.5,-1),(-2,-5.5),(-1.5,0),(-1,-2.5),(-0.5,1.5),(0,0.5),(0.5,4),(1,-0.5),(1.5,2.5),(2,5),(2.5,1.5),(3,3.5),(3.5,6),(4,2),(4.5,5),(5,7.5),(5.5,4),(6,6),(6.5,3.5),(7,8.5),(7.5,6.5),(8,7),(3,8),(-3,-7),(0,-3),(5,1)]

months = ["1", "2", "3", "4", "5", "6", "7", "8", "9", "10", "11", "12"]
sat = [sat_01, sat_02, sat_03, sat_04, sat_05, sat_06, sat_07, sat_08, sat_09, sat_10, sat_11, sat_12]
kor = [kor_01, kor_02, kor_03, kor_04, kor_05, kor_06, kor_07, kor_08, kor_09, kor_10, kor_11, kor_12]

x_ticks = [[-30,-20,-10,0,10],[-10,0],[-10,0,10,20],[0,10,20],[0,10,20,30],[10,20,30],
           [10,20,30],[10,20,30],[0,10,20],[0,10,20],[-20,-10,0,10],[-20,-10,0,10]]
y_ticks = [[-10,-5,0,5,10],[-10,-5,0,5,10],[-5,0,5,10,15],[0,5,10,15,20],[5,10,15,20,25],[10,15,20,25],
           [15,20,25],[15,20,25],[10,15,20],[0,5,10,15],[0,5,10,15],[-10,-5,0,5,10]]

# ---------------- layout / style ----------------
W, H = 799, 592
x_ranges = [[-30.9,11.5],[-20.9,8.7],[-16.5,26.4],[-7.9,29.9],[-2.0,32.3],[2.1,31.5],
            [1.0,33.8],[1.86,36.5],[-1.04,28.66],[-6.98,21.5],[-20.2,17.3],[-22.6,10.2]]
y_ranges = [[-10.7,10.7],[-14.6,11.9],[-6.0,15.7],[-0.6,22.6],[2.2,25.2],[9.2,28.2],
            [12.97,29.85],[10.5,29.16],[6.18,23.4],[-1.15,18.5],[-3.7,16.55],[-13.37,10.74]]

col_px = [(50, 212), (244, 406), (433, 595), (627, 789)]
row_px = [(55, 185), (237, 367), (419, 549)]   # panel top, bottom
strip_h = 24

NAVY = "rgba(0,0,128,0.55)"
GREEN = "rgba(0,255,0,0.55)"
FONT = "Liberation Sans, Arial, sans-serif"
MS = 6.5

fig = go.Figure()
layout = dict(width=W, height=H, margin=dict(l=0, r=0, t=0, b=0),
              paper_bgcolor="white", plot_bgcolor="white", showlegend=False,
              hovermode=False, font=dict(family=FONT))
shapes, annotations = [], []

for i in range(12):
    r, c = divmod(i, 4)
    n = "" if i == 0 else str(i + 1)
    xa, ya = "x" + n, "y" + n
    x0, x1 = col_px[c]
    t, b = row_px[r]
    common = dict(showgrid=True, gridcolor="#DEDEDE", gridwidth=1,
                  showline=True, mirror=True, linecolor="#B3B3B3", linewidth=1,
                  ticks="outside", ticklen=3, tickcolor="#B3B3B3", tickwidth=1,
                  zeroline=False, tickfont=dict(size=11.7, color="#4D4D4D", family=FONT))
    layout["xaxis" + n] = dict(domain=[x0 / W, x1 / W], anchor=ya, range=x_ranges[i],
                               tickmode="array", tickvals=x_ticks[i],
                               minor=dict(tick0=-5, dtick=10, showgrid=True, gridcolor="#F0F0F0", gridwidth=1),
                               **common)
    layout["yaxis" + n] = dict(domain=[1 - b / H, 1 - t / H], anchor=xa, range=y_ranges[i],
                               tickmode="array", tickvals=y_ticks[i],
                               minor=dict(tick0=2.5, dtick=5, showgrid=True, gridcolor="#F0F0F0", gridwidth=1),
                               **common)
    shapes.append(dict(type="rect", xref="paper", yref="paper", x0=x0 / W, x1=x1 / W,
                       y0=1 - t / H, y1=1 - (t - strip_h) / H, fillcolor="#B3B3B3",
                       line=dict(width=0), layer="above"))
    annotations.append(dict(text=months[i], xref="paper", yref="paper",
                            x=(x0 + x1) / 2 / W, y=1 - (t - strip_h / 2) / H,
                            xanchor="center", yanchor="middle", showarrow=False,
                            font=dict(size=11.7, color="white", family=FONT)))

    fig.add_trace(go.Scatter(x=[p[0] for p in sat[i]], y=[p[1] for p in sat[i]], mode="markers",
                             marker=dict(color=NAVY, size=MS, line=dict(width=0)),
                             xaxis=xa, yaxis=ya))
    fig.add_trace(go.Scatter(x=[p[0] for p in kor[i]], y=[p[1] for p in kor[i]], mode="markers",
                             marker=dict(color=GREEN, size=MS, line=dict(width=0)),
                             xaxis=xa, yaxis=ya))
    lo = min(x_ranges[i][0], y_ranges[i][0]) - 5
    hi = max(x_ranges[i][1], y_ranges[i][1]) + 5
    fig.add_trace(go.Scatter(x=[lo, hi], y=[lo, hi], mode="lines",
                             line=dict(color="black", width=1.1), xaxis=xa, yaxis=ya))

annotations.append(dict(text="Porovnání satelitní, korigované teploty a pozorované teploty - jezero Most",
                        xref="paper", yref="paper", x=49 / W, y=1 - 13 / H, xanchor="left",
                        yanchor="middle", showarrow=False, font=dict(size=18.2, color="black", family=FONT)))
annotations.append(dict(text="Satelitní a korigované teploty [°C]", xref="paper", yref="paper",
                        x=419 / W, y=1 - 581 / H, xanchor="center", yanchor="middle", showarrow=False,
                        font=dict(size=14.7, color="black", family=FONT)))
annotations.append(dict(text="Teplota - pozorovaná [°C]", xref="paper", yref="paper",
                        x=15 / W, y=1 - 302 / H, xanchor="center", yanchor="middle", showarrow=False,
                        textangle=-90, font=dict(size=14.7, color="black", family=FONT)))

layout["shapes"] = shapes
layout["annotations"] = annotations
fig.update_layout(**layout)
fig.write_html("out.html", config={"displayModeBar": False})
